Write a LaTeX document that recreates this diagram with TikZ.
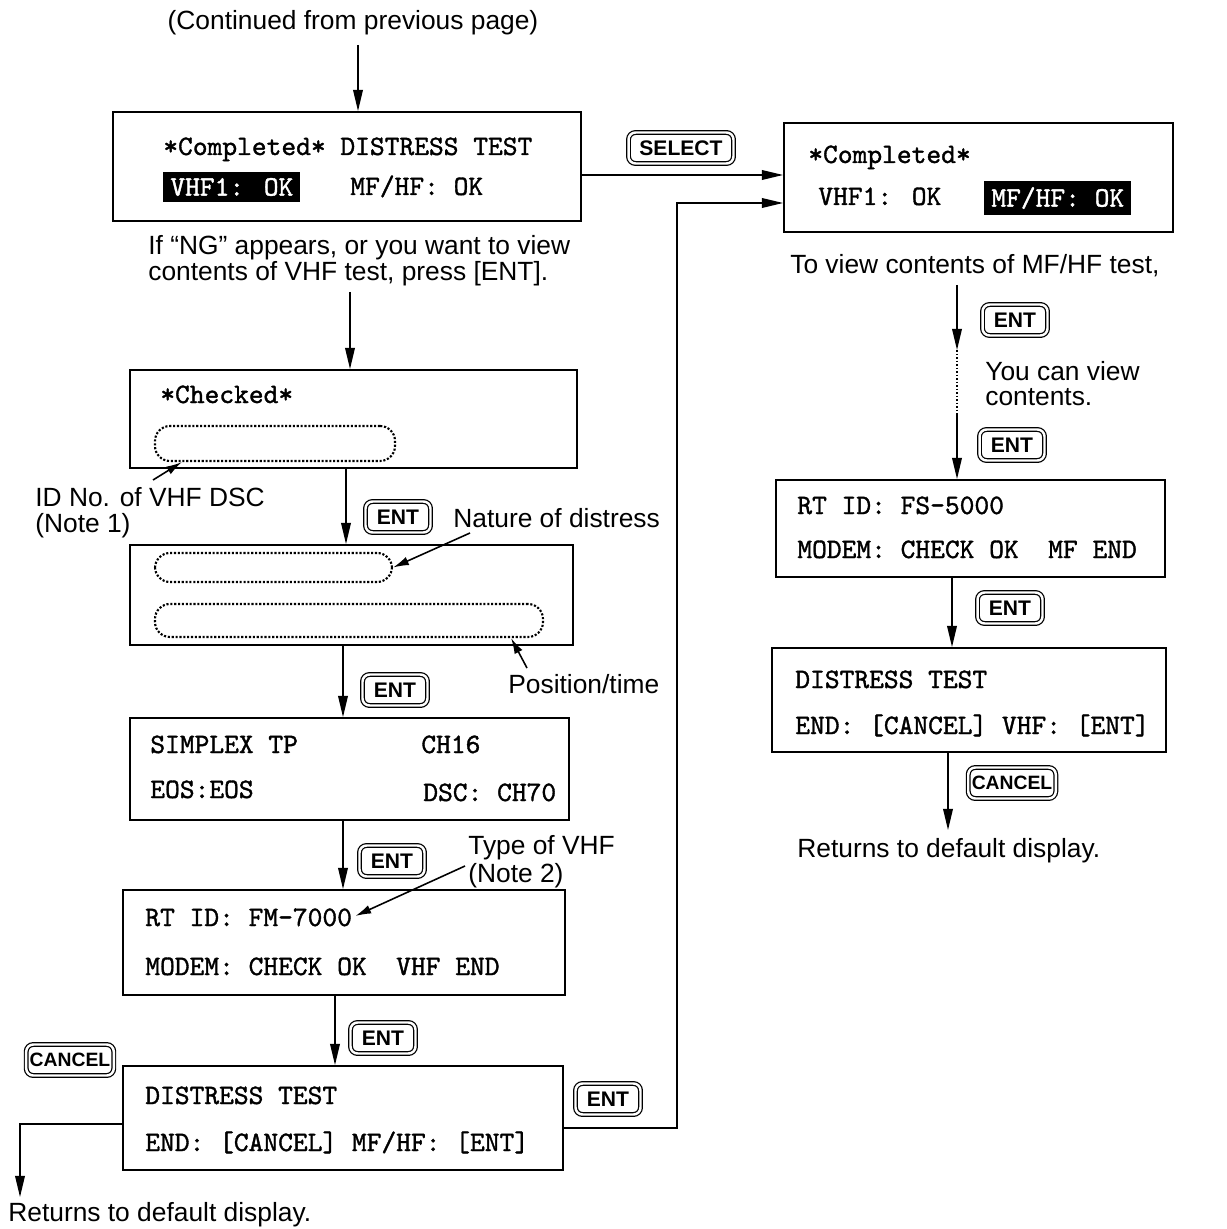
\documentclass[tikz,border=0pt]{standalone}
\usepackage{fontspec}
\setmainfont{Liberation Sans}
\newfontfamily\dispfont{lmmono10-regular.otf}[FakeBold=1.3]
\usetikzlibrary{fit,calc,arrows.meta}
\begin{document}
\begin{tikzpicture}[x=0.02cm,y=-0.02cm,
  box/.style={draw,line width=1.1pt,inner sep=0pt},
  mono/.style={font=\dispfont\fontsize{16}{18}\selectfont,inner sep=0pt,anchor=base west},
  lab/.style={font=\fontsize{15}{17}\selectfont,inner sep=0pt,anchor=base west},
  hl/.style={fill=black,text=white,font=\dispfont\fontsize{16}{18}\selectfont,inner xsep=4pt,minimum height=0.6cm,anchor=west},
  btn/.style={draw,double,double distance=1.4pt,line width=0.7pt,rounded corners=4pt,font=\bfseries\fontsize{12}{12}\selectfont,minimum height=0.62cm,inner xsep=2pt},
  dsh/.style={draw,densely dotted,line width=1.2pt,rounded corners=0.3cm,inner sep=0pt},
  arr/.style={line width=0.8pt,-{Triangle[length=12pt,width=5.5pt]}},
  ann/.style={line width=0.9pt,-{Latex[length=9pt,width=5pt]}}]
\useasboundingbox (0,0) rectangle (1226,1229);

% ---------- boxes ----------
\node[box,fit={(113,112)(581,221)}] (b1) {};
\node[box,fit={(130,370)(577,468)}] (b2) {};
\node[box,fit={(130,545)(573,645)}] (b3) {};
\node[box,fit={(130,718)(569,820)}] (b4) {};
\node[box,fit={(123,890)(565,995)}] (b5) {};
\node[box,fit={(123,1066)(563,1170)}] (b6) {};
\node[box,fit={(784,123)(1173,232)}] (b7) {};
\node[box,fit={(776,480)(1165,577)}] (b8) {};
\node[box,fit={(772,648)(1166,752)}] (b9) {};

% ---------- display texts ----------
\node[mono] (t1a) at (163,155) {*Completed* DISTRESS TEST};
\node[hl] (t1b) at (163,187) {VHF1: OK};
\node[mono] (t1c) at (350,195) {MF/HF: OK};
\node[mono] (t2a) at (160,403) {*Checked*};
\node[dsh,fit={(155,426)(395,461)}] (d1) {};
\node[dsh,fit={(155,553)(392,582)}] (d2) {};
\node[dsh,fit={(155,604)(543,637)}] (d3) {};
\node[mono] (t4a) at (150,753) {SIMPLEX TP};
\node[mono] (t4b) at (421,753) {CH16};
\node[mono] (t4c) at (150,798) {EOS:EOS};
\node[mono] (t4d) at (423,801) {DSC: CH70};
\node[mono] (t5a) at (145,926) {RT ID: FM-7000};
\node[mono] (t5b) at (145,975) {MODEM: CHECK OK\ \ VHF END};
\node[mono] (t6a) at (145,1104) {DISTRESS TEST};
\node[mono] (t6b) at (145,1151) {END: [CANCEL] MF/HF: [ENT]};
\node[mono] (t7a) at (808,163) {*Completed*};
\node[mono] (t7b) at (818,205) {VHF1: OK};
\node[hl] (t7c) at (984,198) {MF/HF: OK};
\node[mono] (t8a) at (797,514) {RT ID: FS-5000};
\node[mono] (t8b) at (797,558) {MODEM: CHECK OK\ \ MF END};
\node[mono] (t9a) at (795,688) {DISTRESS TEST};
\node[mono] (t9b) at (795,734) {END: [CANCEL] VHF: [ENT]};

% ---------- labels ----------
\node[lab,anchor=base] (cont) at (353,30) {(Continued from previous page)};
\node[font=\fontsize{15}{13.1}\selectfont,inner sep=0pt,align=left,anchor=north west] (ng) at (148,235)
  {If “NG” appears, or you want to view\\contents of VHF test, press [ENT].};
\node[lab] (id1) at (35,506) {ID No. of VHF DSC};
\node[lab] (id2) at (35,532) {(Note 1)};
\node[lab] (nat) at (453,527) {Nature of distress};
\node[lab] (pos) at (508,693) {Position/time};
\node[lab] (ty1) at (468,854) {Type of VHF};
\node[lab] (ty2) at (468,882) {(Note 2)};
\node[lab] (ret1) at (8,1221) {Returns to default display.};
\node[lab] (view) at (790,274) {To view contents of MF/HF test,};
\node[lab] (cv1) at (985,380) {You can view};
\node[lab] (cv2) at (985,405) {contents.};
\node[lab] (ret2) at (797,857) {Returns to default display.};

% ---------- buttons ----------
\node[btn,minimum width=2.1cm] (sel) at (681,148) {SELECT};
\node[btn,minimum width=1.3cm] (e1) at (398,517) {ENT};
\node[btn,minimum width=1.3cm] (e2) at (395,690) {ENT};
\node[btn,minimum width=1.3cm] (e3) at (392,861) {ENT};
\node[btn,minimum width=1.3cm] (e4) at (383,1038) {ENT};
\node[btn,minimum width=1.62cm,font=\bfseries\fontsize{11}{11}\selectfont] (c1) at (70,1060) {CANCEL};
\node[btn,minimum width=1.3cm] (e5) at (608,1099) {ENT};
\node[btn,minimum width=1.3cm] (e6) at (1015,320) {ENT};
\node[btn,minimum width=1.3cm] (e7) at (1012,445) {ENT};
\node[btn,minimum width=1.3cm] (e8) at (1010,608) {ENT};
\node[btn,minimum width=1.62cm,font=\bfseries\fontsize{11}{11}\selectfont] (c2) at (1012,783) {CANCEL};

% ---------- connectors ----------
\coordinate (x0) at (358,45);
\draw[arr] (x0) -- (x0 |- b1.north);
\coordinate (x1) at (350,292);
\draw[arr] (x1) -- (x1 |- b2.north);
\coordinate (x2) at (346,0);
\draw[arr] (x2 |- b2.south) -- (x2 |- b3.north);
\coordinate (x3) at (343,0);
\draw[arr] (x3 |- b3.south) -- (x3 |- b4.north);
\draw[arr] (x3 |- b4.south) -- (x3 |- b5.north);
\coordinate (x5) at (335,0);
\draw[arr] (x5 |- b5.south) -- (x5 |- b6.north);

\coordinate (y1) at (0,175);
\draw[arr] (y1 -| b1.east) -- (y1 -| b7.west);
\coordinate (r1) at (677,1128);
\coordinate (y2) at (0,203);
\draw[arr] (r1 -| b6.east) -- (r1) -- (r1 |- y2) -- (y2 -| b7.west);
\coordinate (l1) at (20,1124);
\coordinate (l2) at (20,1197);
\draw[arr] (l1 -| b6.west) -- (l1) -- (l2);

\coordinate (v0) at (957,285);
\coordinate (v1) at (957,350);
\coordinate (v2) at (957,415);
\draw[arr] (v0) -- (v1);
\draw[densely dotted,line width=1pt] (v1) -- (v2);
\draw[arr] (v2) -- (v2 |- b8.north);
\coordinate (x6) at (952,0);
\draw[arr] (x6 |- b8.south) -- (x6 |- b9.north);
\coordinate (v3) at (948,830);
\draw[arr] (v3 |- b9.south) -- (v3);

% ---------- annotation arrows ----------
\coordinate (n1) at (153,480);
\draw[ann] (n1) -- ($(d1.south west)+(28,0)$);
\coordinate (n2) at (470,533);
\draw[ann] (n2) -- (d2.east);
\coordinate (n3) at (527,668);
\draw[ann] (n3) -- ($(d3.south east)+(-33,0)$);
\coordinate (n4) at (465,866);
\draw[ann] (n4) -- ($(t5a.base east)+(3,-10)$);
\end{tikzpicture}
\end{document}
